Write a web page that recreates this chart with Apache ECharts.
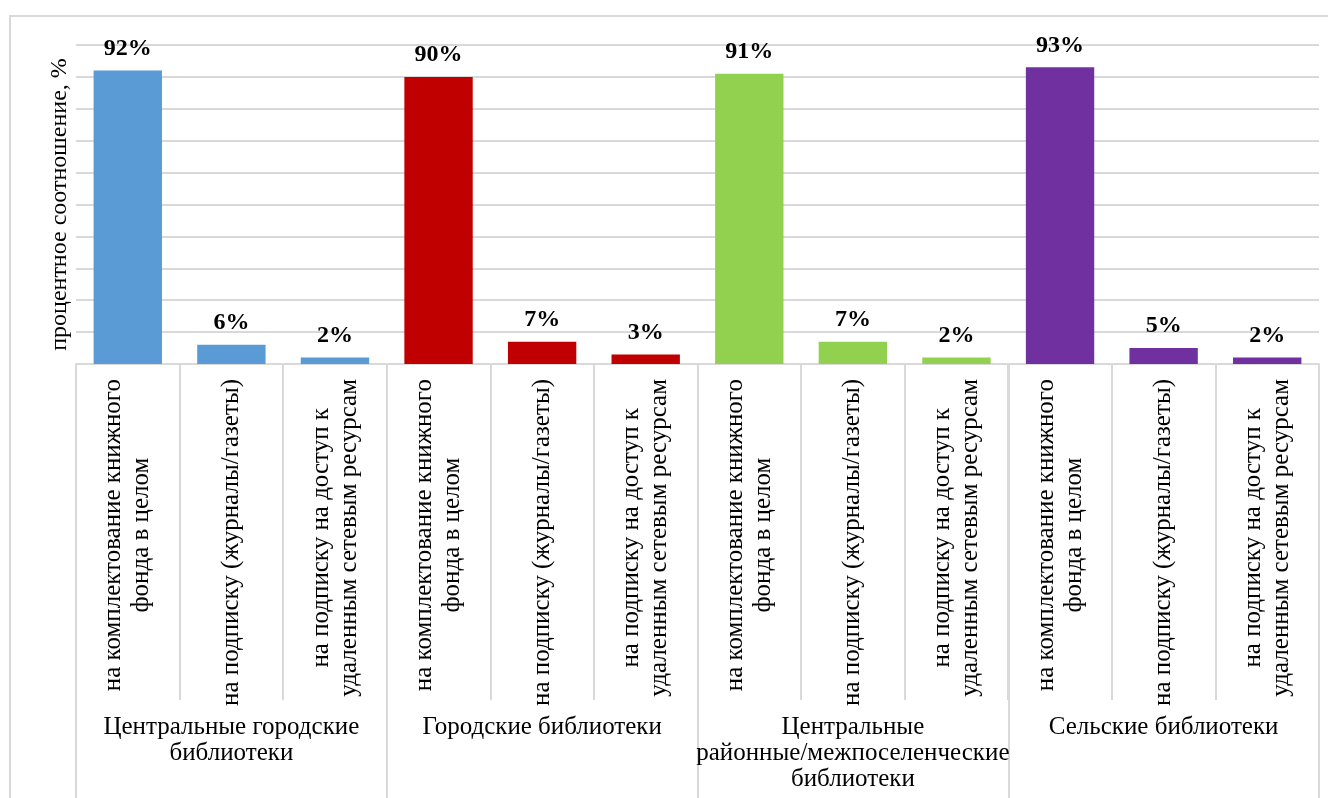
<!DOCTYPE html>
<html>
<head>
<meta charset="utf-8">
<script src="https://cdn.jsdelivr.net/npm/echarts@6/dist/echarts.min.js"></script>
<style>
  html, body { margin: 0; padding: 0; background: #fff; }
  #chart { width: 1328px; height: 798px; }
</style>
</head>
<body>
<div id="chart"></div>
<script>
 // группы библиотек
 var groups = ['Центральные городские\nбиблиотеки', 'Городские библиотеки',
   'Центральные\nрайонные/межпоселенческие\nбиблиотеки', 'Сельские библиотеки'];
 // статьи расходов (повторяются в каждой группе)
 var items = ['на комплектование книжного\nфонда в целом', 'на подписку (журналы/газеты)',
   'на подписку на доступ к\nудаленным сетевым ресурсам'];
 var groupColors = ['#5B9BD5', '#C00000', '#92D050', '#7030A0'];
 // значения, %
 var central = [92, 6, 2];
 var city = [90, 7, 3];
 var district = [91, 7, 2];
 var rural = [93, 5, 2];

 var serif = '"Liberation Serif", "Times New Roman", serif';

 function makeOption() {
   var values = [central, city, district, rural];
   var cats = [];
   var data = [];
   for (var g = 0; g < values.length; g++) {
     for (var i = 0; i < items.length; i++) {
       cats.push(items[i]);
       data.push({ value: values[g][i], itemStyle: { color: groupColors[g] } });
     }
   }
   var option = {
     animation: false,
     graphic: [{
       type: 'rect',
       shape: { x: 10, y: 16, width: 1340, height: 800 },
       style: { fill: 'none', stroke: '#d9d9d9', lineWidth: 2 }
     }],
     grid: { left: 76, right: 9, top: 45, bottom: 434, outerBoundsMode: 'none' },
     xAxis: [
       {
         type: 'category',
         data: cats,
         position: 'bottom',
         axisLine: { lineStyle: { color: '#d9d9d9', width: 2 } },
         axisTick: { show: true, length: 336, lineStyle: { color: '#d9d9d9', width: 2 } },
         axisLabel: {
           interval: 0,
           rotate: 90,
           margin: 15,
           color: '#000',
           fontFamily: serif,
           fontSize: 25,
           formatter: function (v) {
             return v.split('\n').map(function (s) { return '{c|' + s + '}'; }).join('\n');
           },
           rich: { c: { align: 'center', fontFamily: serif, fontSize: 25, lineHeight: 28, color: '#000' } }
         }
       },
       {
         type: 'category',
         data: groups,
         position: 'bottom',
         axisLine: { show: false },
         axisTick: { show: true, length: 434, lineStyle: { color: '#d9d9d9', width: 2 } },
         axisLabel: {
           interval: 0,
           margin: 350,
           color: '#000',
           fontFamily: serif,
           fontSize: 25,
           lineHeight: 26
         }
       }
     ],
     yAxis: {
       type: 'value',
       min: 0,
       max: 100,
       interval: 10,
       name: 'процентное соотношение, %',
       nameLocation: 'middle',
       nameGap: 4,
       nameTextStyle: { color: '#000', fontFamily: serif, fontSize: 24 },
       axisLabel: { show: false },
       axisLine: { show: false },
       axisTick: { show: false },
       splitLine: { lineStyle: { color: '#d9d9d9', width: 2 } }
     },
     series: [{
       type: 'bar',
       barWidth: '66%',
       data: data,
       label: {
         show: true,
         position: 'top',
         distance: 10,
         formatter: '{c}%',
         color: '#000',
         fontFamily: serif,
         fontWeight: 'bold',
         fontSize: 24
       }
     }]
   };
   return option;
 }

 function setChart(id, option) {
   var myChart = echarts.init(document.getElementById(id));
   myChart.setOption(option);
 }

 setChart('chart', makeOption());
</script>
</body>
</html>
